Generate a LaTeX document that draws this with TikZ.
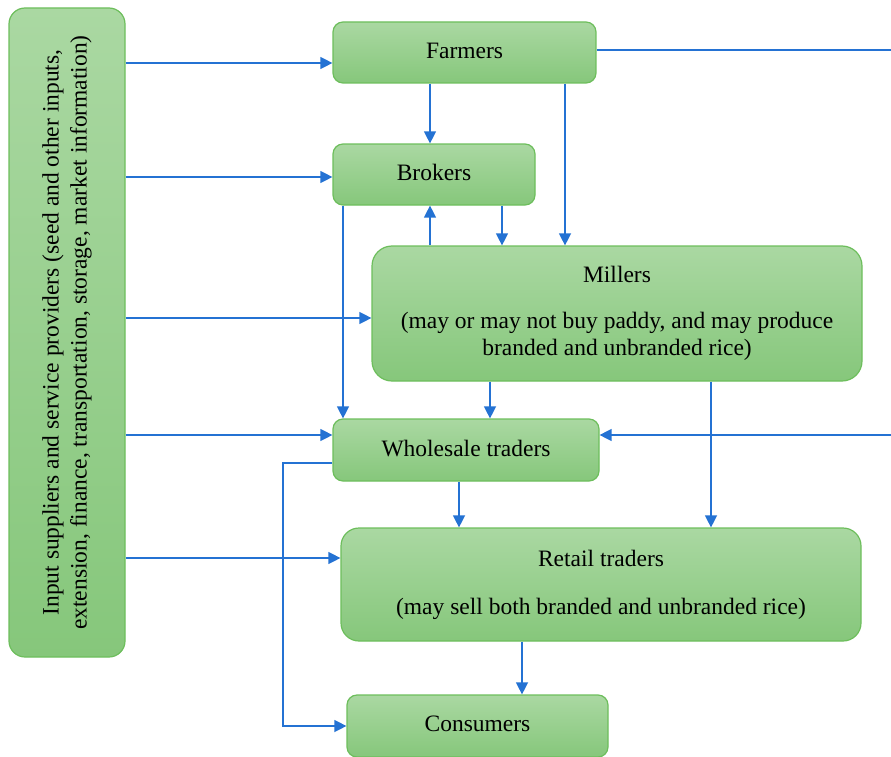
\documentclass[tikz,border=0pt]{standalone}
\usepackage{fontspec}
\setmainfont{Liberation Serif}
\usetikzlibrary{arrows.meta,calc}
\definecolor{boxtop}{HTML}{AAD8A2}
\definecolor{boxbot}{HTML}{86C77B}
\definecolor{boxborder}{HTML}{6DBE5C}
\definecolor{arrblue}{HTML}{2472D3}
\newcommand{\up}[1]{\raisebox{4pt}{#1}}
\begin{document}
\begin{tikzpicture}[x=1pt,y=-1pt,
  box/.style={draw=boxborder, line width=1.2pt, rounded corners=10pt,
    top color=boxtop, bottom color=boxbot, inner sep=0pt, align=center,
    font=\fontsize{23.5}{27}\selectfont},
  arr/.style={draw=arrblue, line width=1.3pt, -{Triangle[width=12pt,length=12pt]}},
  ln/.style={draw=arrblue, line width=1.3pt}]
\useasboundingbox (0,0) rectangle (891,757);
\clip (0,0) rectangle (891,757);

\node[box, rotate=90, minimum width=649pt, minimum height=116pt, rounded corners=16pt,
      font=\fontsize{23.5}{28}\selectfont] (inp) at (67,332.5)
  {Input suppliers and service providers (seed and other inputs,\\extension, finance, transportation, storage, market information)};
\node[box, minimum width=263pt, minimum height=61pt] (far) at (464.5,52.5) {\up{Farmers}};
\node[box, minimum width=202pt, minimum height=61pt] (bro) at (434,174.5) {\up{Brokers}};
\node[box, minimum width=490pt, minimum height=135pt, rounded corners=20pt] (mil) at (617,313.5)
  {Millers\\[19pt](may or may not buy paddy, and may produce\\branded and unbranded rice)};
\node[box, minimum width=266pt, minimum height=62pt] (who) at (466,450) {\up{Wholesale traders}};
\node[box, minimum width=520pt, minimum height=113pt, rounded corners=18pt] (ret) at (601,584.5)
  {Retail traders\\[21pt](may sell both branded and unbranded rice)};
\node[box, minimum width=261pt, minimum height=62pt] (con) at (477.5,726) {\up{Consumers}};

% from input suppliers
\draw[arr] (inp.south |- 0,63) -- (far.west |- 0,63);
\draw[arr] (inp.south |- 0,177) -- (bro.west |- 0,177);
\draw[arr] (inp.south |- 0,318) -- (mil.west |- 0,318);
\draw[arr] (inp.south |- 0,435) -- (who.west |- 0,435);
\draw[arr] (inp.south |- 0,558) -- (ret.west |- 0,558);

% farmers
\draw[arr] (far.south -| 430,0) -- (bro.north -| 430,0);
\draw[arr] (far.south -| 565,0) -- (mil.north -| 565,0);
\coordinate (fr1) at (895,50);
\draw[ln] (far.east |- 0,50) -- (fr1);
\draw[arr] (fr1) -- (895,435) -- (who.east |- 0,435);

% brokers <-> millers
\draw[arr] (bro.south -| 502,0) -- (mil.north -| 502,0);
\draw[arr] (mil.north -| 430,0) -- (bro.south -| 430,0);
\draw[arr] (bro.south -| 343,0) -- (who.north -| 343,0);

% millers
\draw[arr] (mil.south -| 490,0) -- (who.north -| 490,0);
\draw[arr] (mil.south -| 711,0) -- (ret.north -| 711,0);

% wholesale
\draw[arr] (who.south -| 459,0) -- (ret.north -| 459,0);
\draw[arr] (who.west |- 0,463) -- (283,463) -- (283,726) -- (con.west);

% retail
\draw[arr] (ret.south -| 522,0) -- (con.north -| 522,0);
\end{tikzpicture}
\end{document}
